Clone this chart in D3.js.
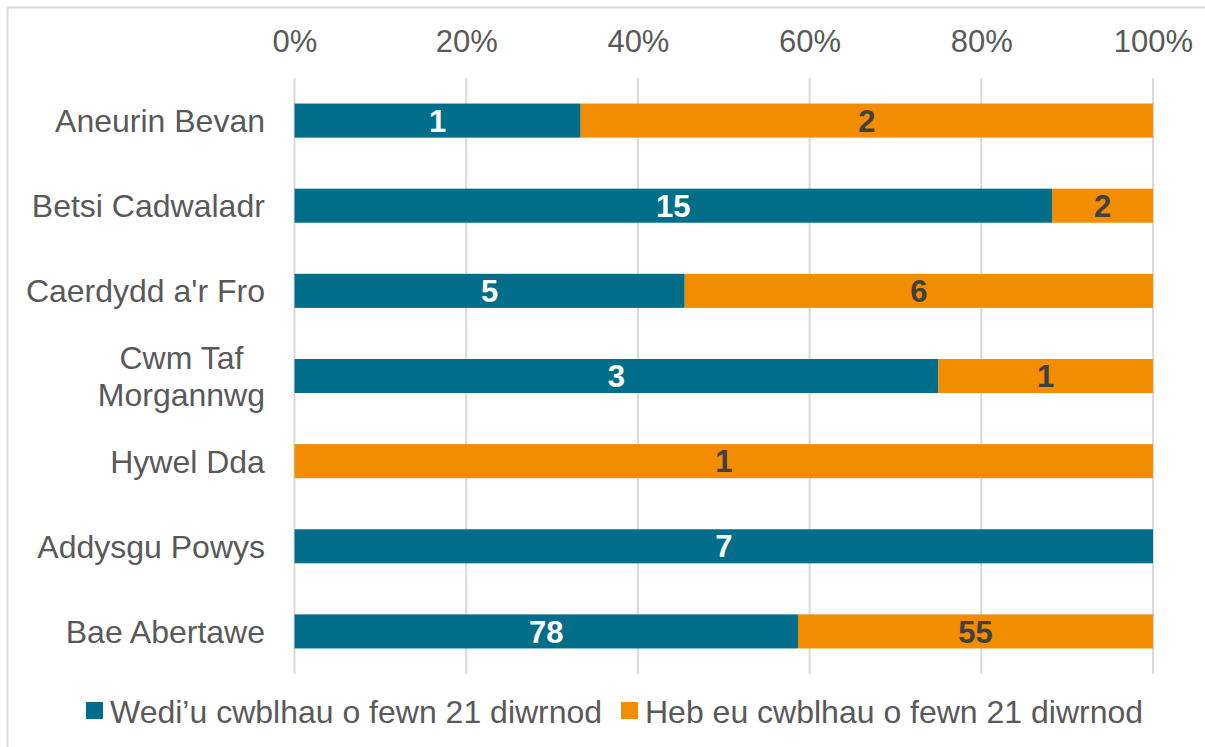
<html>
<head><meta charset="utf-8"/></head>
<script src="https://d3js.org/d3.v7.min.js"></script>
<style>
  body { margin: 0; background: #fff; }
  text { font-family: "Liberation Sans", Arial, sans-serif; }
</style>
<body>
<svg width="1205" height="747"></svg>
<script>
// data
var boards = ["Aneurin Bevan", "Betsi Cadwaladr", "Caerdydd a'r Fro", "Cwm Taf Morgannwg", "Hywel Dda", "Addysgu Powys", "Bae Abertawe"];
var boardLines = [["Aneurin Bevan"], ["Betsi Cadwaladr"], ["Caerdydd a'r Fro"], ["Cwm Taf", "Morgannwg"], ["Hywel Dda"], ["Addysgu Powys"], ["Bae Abertawe"]];
var completed = [1, 15, 5, 3, 0, 7, 78];
var notCompleted = [2, 2, 6, 1, 1, 0, 55];
var seriesNames = ["Wedi\u2019u cwblhau o fewn 21 diwrnod", "Heb eu cwblhau o fewn 21 diwrnod"];
var seriesColors = ["#006E8A", "#F28C00"];
var labelColors = ["#ffffff", "#404040"];
var tickValues = [0, 0.2, 0.4, 0.6, 0.8, 1];

var svg = d3.select("svg");

// outer border
svg.append("rect")
  .attr("x", 7.5).attr("y", 7.5)
  .attr("width", 1205).attr("height", 747)
  .attr("fill", "none").attr("stroke", "#d9d9d9").attr("stroke-width", 2);

var x = d3.scaleLinear().domain([0, 1]).range([294.5, 1153]);
var y = d3.scaleBand().domain(boards).range([78, 674]).paddingInner(0.6).paddingOuter(0.3);

// gridlines
svg.append("g")
  .selectAll("line")
  .data(tickValues)
  .enter().append("line")
  .attr("x1", function(d) { return x(d); })
  .attr("x2", function(d) { return x(d); })
  .attr("y1", 78).attr("y2", 674)
  .attr("stroke", "#d9d9d9").attr("stroke-width", 2);

// top axis labels
var xAxis = svg.append("g")
  .attr("transform", "translate(0,52)")
  .call(d3.axisTop(x).tickValues(tickValues).tickFormat(d3.format(".0%")).tickSize(0).tickPadding(0));
xAxis.select(".domain").remove();
xAxis.selectAll("text")
  .attr("font-size", 31).attr("fill", "#595959")
  .attr("font-family", "Liberation Sans, Arial, sans-serif")
  .attr("dy", 0);

// stack the data
var rows = boards.map(function(b, i) {
  var total = completed[i] + notCompleted[i];
  return { board: b, v: [completed[i], notCompleted[i]], total: total };
});
var segs = [];
rows.forEach(function(r) {
  var start = 0;
  r.v.forEach(function(v, s) {
    segs.push({ board: r.board, s: s, value: v, x0: start / r.total, x1: (start + v) / r.total });
    start += v;
  });
});
segs = segs.filter(function(d) { return d.value > 0; });

svg.append("g")
  .selectAll("rect")
  .data(segs)
  .enter().append("rect")
  .attr("x", function(d) { return x(d.x0); })
  .attr("width", function(d) { return x(d.x1) - x(d.x0); })
  .attr("y", function(d) { return y(d.board); })
  .attr("height", y.bandwidth())
  .attr("fill", function(d) { return seriesColors[d.s]; });

svg.append("g")
  .selectAll("text")
  .data(segs)
  .enter().append("text")
  .attr("x", function(d) { return x((d.x0 + d.x1) / 2); })
  .attr("y", function(d) { return y(d.board) + y.bandwidth() / 2; })
  .attr("dy", "0.36em")
  .attr("text-anchor", "middle")
  .attr("font-size", 31).attr("font-weight", "bold")
  .attr("fill", function(d) { return labelColors[d.s]; })
  .text(function(d) { return d.value; });

// category labels
var cat = svg.append("g")
  .selectAll("text")
  .data(boards)
  .enter().append("text")
  .attr("font-size", 32).attr("fill", "#595959")
  .attr("text-anchor", "middle")
  .each(function(d, i) {
    var lines = boardLines[i];
    var t = d3.select(this);
    var cy = y(d) + y.bandwidth() / 2;
    var lh = 37;
    lines.forEach(function(l, j) {
      t.append("tspan")
        .attr("x", 0)
        .attr("y", cy + (j - (lines.length - 1) / 2) * lh)
        .attr("dy", "0.36em")
        .text(l);
    });
  });
// right-align each label block at 265 while keeping lines centered
cat.each(function() {
  var bb = this.getBBox();
  var cx = 265 - bb.width / 2;
  d3.select(this).selectAll("tspan").attr("x", cx);
});

// legend
var leg = svg.append("g").attr("transform", "translate(86,711)");
var lx = [0, 535];
seriesNames.forEach(function(n, i) {
  var g = leg.append("g").attr("transform", "translate(" + lx[i] + ",0)");
  g.append("rect").attr("x", 0).attr("y", -9).attr("width", 17).attr("height", 17)
    .attr("fill", seriesColors[i]);
  g.append("text").attr("x", 24).attr("y", 0).attr("dy", "0.36em")
    .attr("font-size", 32).attr("fill", "#595959").text(n);
});
</script>
</body>
</html>
